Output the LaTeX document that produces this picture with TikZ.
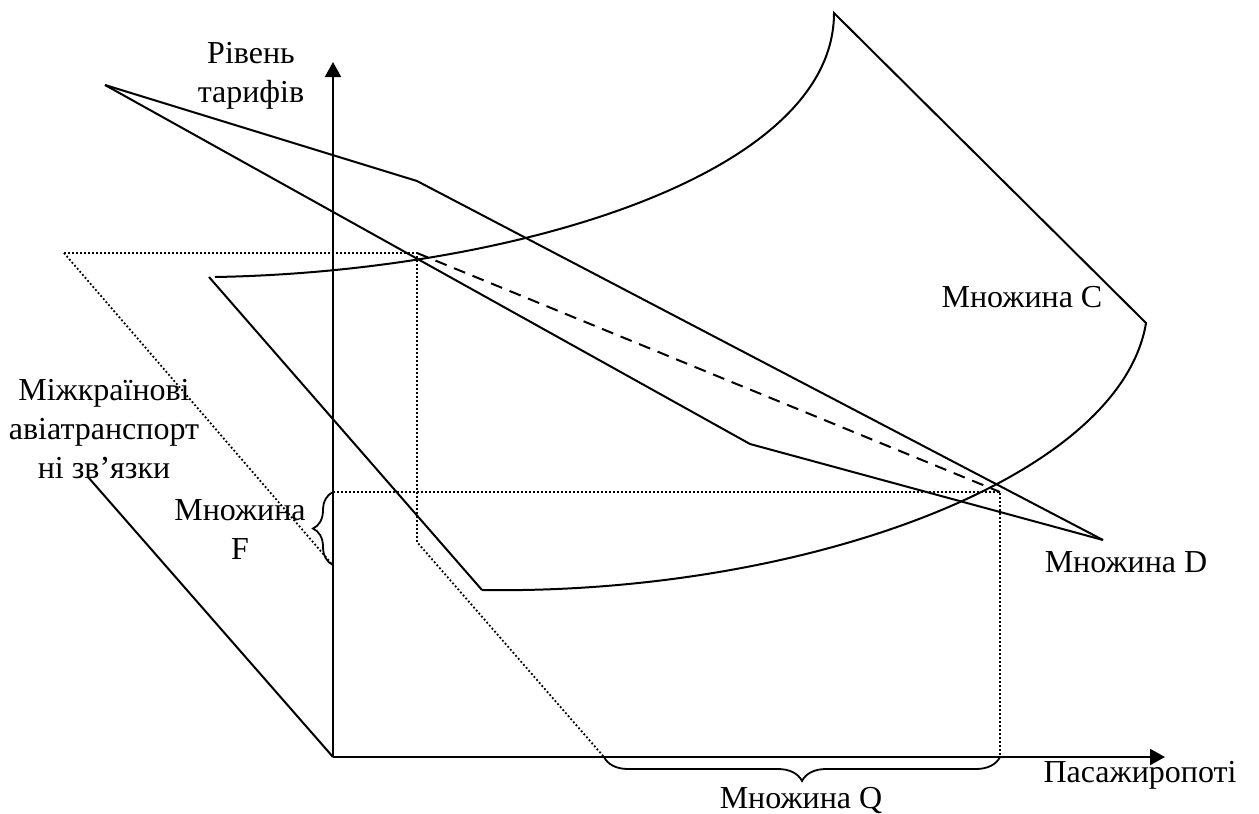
\documentclass[tikz,border=0pt]{standalone}
\usepackage{fontspec}
\setmainfont{Liberation Serif}
\usetikzlibrary{arrows.meta,decorations.pathreplacing}
\begin{document}
\begin{tikzpicture}[x=0.5pt,y=-0.5pt,
  ln/.style={line width=1pt,line join=miter},
  axisln/.style={line width=1.1pt,-{Triangle[length=7.5pt,width=8pt]}},
  dotln/.style={line width=0.9pt,dash pattern=on 0.9pt off 1.1pt},
  dashln/.style={line width=1pt,dash pattern=on 6pt off 4pt},
  lbl/.style={font=\fontsize{16pt}{19.5pt}\selectfont,align=center,inner sep=0pt},
  brc/.style={decorate,line width=0.9pt}]
\useasboundingbox (0,0) rectangle (1259,814);
% points
\coordinate (O) at (333,757);
\coordinate (Ytip) at (333,62);
\coordinate (Xtip) at (1165,757);
\coordinate (L1) at (88,477);
\coordinate (P1) at (64,253);
\coordinate (P2) at (417,253);
\coordinate (P3) at (417,542);
\coordinate (P4) at (604,757);
\coordinate (P5) at (331,563);
\coordinate (Ftop) at (333,492);
\coordinate (Fbot) at (333,565);
\coordinate (E) at (1000,492);
\coordinate (Qend) at (1000,757);
\coordinate (D0) at (105,85);
\coordinate (Du) at (417,181);
\coordinate (Dl) at (750,444);
\coordinate (Dend) at (1103,540);
\coordinate (C0) at (215,277);
\coordinate (Ctop) at (834,13);
\coordinate (Cr) at (1146,323);
\coordinate (Cb) at (482,590);
\coordinate (Cl) at (209,277);
% axes
\draw[axisln] (O) -- (Ytip);
\draw[axisln] (O) -- (Xtip);
\draw[ln] (O) -- (L1);
% dotted plane
\draw[dotln] (P1) -- (P2) -- (P3) -- (P4);
\draw[dotln] (P1) -- (P5);
\draw[dotln] (Ftop) -- (E) -- (Qend);
% dashed
\draw[dashln] (P2) -- (E);
% set D
\draw[ln] (D0) -- (Du) -- (Dend);
\draw[ln] (D0) -- (Dl) -- (Dend);
% set C
\draw[ln] (C0) .. controls (505,272) and (834,178) .. (Ctop) -- (Cr)
  .. controls (1120,480) and (800,595) .. (Cb);
\draw[ln] (Cb) -- (Cl);
% braces
\draw[brc,decoration={brace,amplitude=10pt}] (Fbot) -- (Ftop);
\draw[brc,decoration={brace,amplitude=12pt}] (Qend) -- (P4);
% labels
\node[lbl] (ylab) at (251,76) {Рівень\\тарифів};
\node[lbl] (xlab) at (1140,775) {Пасажиропоті};
\node[lbl] (zlab) at (104,429) {Міжкраїнові\\авіатранспорт\\ні зв’язки};
\node[lbl] (setF) at (240,530) {Множина\\F};
\node[lbl] (setC) at (1022,297) {Множина C};
\node[lbl] (setD) at (1126,562) {Множина D};
\node[lbl] (setQ) at (801,800) {Множина Q};
\end{tikzpicture}
\end{document}
